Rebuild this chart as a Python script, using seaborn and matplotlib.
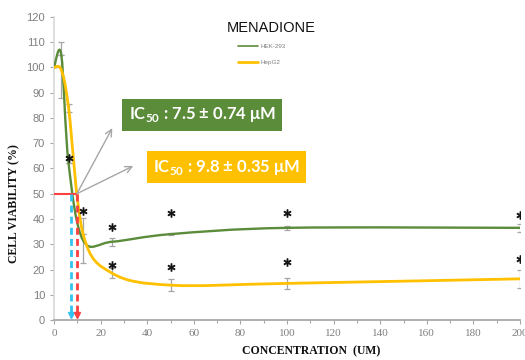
import numpy as np
import pandas as pd
import seaborn as sns
import matplotlib.pyplot as plt
from matplotlib.path import Path
from matplotlib.patches import PathPatch
from matplotlib.lines import Line2D

# Data
conc = [0, 3.125, 6.25, 12.5, 25, 50, 100, 200]
hek_mean = [100, 105, 62, 31.5, 31, 34, 36.5, 36.5]
hek_err = [0, 0, 0, 9, 1.5, 0.5, 0.8, 1.5]
hep_mean = [100, 99, 84, 34, 18.5, 13.8, 14.5, 16.3]
hep_err = [0, 11, 1.5, 0, 2, 2.4, 2.2, 3.5]

# significance stars (conc, height)
star_x = [6.25, 12.5, 25, 50, 100, 200, 25, 50, 100, 200]
star_y = [64, 43, 37, 42.5, 42.5, 41.7, 21.8, 21, 23, 24]

ic50_hek = 7.5
ic50_hep = 9.8

green = '#5B8C3A'
yellow = '#FFC000'

sns.set_theme(style='white')
plt.rcParams['font.family'] = ['Liberation Sans', 'DejaVu Sans']


def smooth_path(x, y):
    # Excel style smoothed line (Catmull-Rom as cubic Bezier)
    n = len(x)
    verts = [(x[0], y[0])]
    codes = [Path.MOVETO]
    for i in range(n - 1):
        xp, yp = (x[i - 1], y[i - 1]) if i > 0 else (x[i], y[i])
        xn, yn = (x[i + 2], y[i + 2]) if i + 2 < n else (x[i + 1], y[i + 1])
        c1 = (x[i] + (x[i + 1] - xp) / 6, y[i] + (y[i + 1] - yp) / 6)
        c2 = (x[i + 1] - (xn - x[i]) / 6, y[i + 1] - (yn - y[i]) / 6)
        verts += [c1, c2, (x[i + 1], y[i + 1])]
        codes += [Path.CURVE4] * 3
    return Path(verts, codes)


fig = plt.figure(figsize=(5.25, 3.6), dpi=100)
ax = fig.add_axes([0.1029, 0.1111, 0.8876, 0.8417])

# error bars
ax.errorbar(conc, hek_mean, yerr=hek_err, fmt='none', ecolor='#A6A6A6',
            elinewidth=0.9, capsize=2.5, capthick=0.9, zorder=2)
ax.errorbar(conc, hep_mean, yerr=hep_err, fmt='none', ecolor='#A6A6A6',
            elinewidth=0.9, capsize=2.5, capthick=0.9, zorder=2)

ax.add_patch(PathPatch(smooth_path(conc, hek_mean), facecolor='none',
                       edgecolor=green, lw=1.7, zorder=3))
ax.add_patch(PathPatch(smooth_path(conc, hep_mean), facecolor='none',
                       edgecolor=yellow, lw=2.0, zorder=3))

# stars
stars = pd.DataFrame({'x': star_x, 'y': star_y})
sns.scatterplot(data=stars, x='x', y='y', marker=r'$\ast$', s=30, color='#111111',
                edgecolor='#111111', linewidth=0.6, ax=ax, zorder=5, legend=False)

# IC50 guide lines
ax.plot([0, ic50_hep], [50, 50], color='#FF4040', lw=1.5, zorder=4)
ax.plot([ic50_hek, ic50_hek], [50, 3], color='#33C3EE', lw=2, ls=(0, (2.5, 1.5)), zorder=4)
ax.plot([ic50_hep, ic50_hep], [50, 3], color='#FF4040', lw=2, ls=(0, (2.5, 1.5)), zorder=4)
ax.plot([ic50_hek], [1.8], marker='v', color='#33C3EE', ms=5, zorder=4)
ax.plot([ic50_hep], [1.8], marker='v', color='#FF4040', ms=5, zorder=4)

# pointer arrows and labels
for tip in [(25, 76), (34, 61)]:
    ax.annotate('', xy=tip, xytext=(ic50_hep, 50),
                arrowprops=dict(arrowstyle='->', color='#A6A6A6', lw=1,
                                shrinkA=0, shrinkB=0), zorder=4)

ax.text(63.5, 81.3, r'IC$_\mathregular{50}$ : 7.5 ± 0.74 μM', color='white',
        fontsize=12, fontweight='bold', family=['Lato', 'DejaVu Sans'],
        ha='center', va='center', zorder=6,
        bbox=dict(boxstyle='square,pad=0.38', fc=green, ec='none'))
ax.text(74, 60.5, r'IC$_\mathregular{50}$ : 9.8 ± 0.35 μM', color='white',
        fontsize=12, fontweight='bold', family=['Lato', 'DejaVu Sans'],
        ha='center', va='center', zorder=6,
        bbox=dict(boxstyle='square,pad=0.38', fc=yellow, ec='none'))

ax.text(0.466, 0.964, 'MENADIONE', transform=ax.transAxes, fontsize=10.5,
        ha='center', va='center', color='#111111')

handles = [Line2D([], [], color=green, lw=1.2), Line2D([], [], color=yellow, lw=2)]
ax.legend(handles, ['HEK-293', 'HepG2'], loc='upper left', bbox_to_anchor=(0.395, 0.912),
          frameon=False, fontsize=4.5, handlelength=3.2, labelspacing=1.7,
          borderpad=0, borderaxespad=0, handletextpad=0.4, labelcolor='#7F7F7F')

ax.set_xlim(0, 200)
ax.set_ylim(0, 120)
ax.set_xticks(np.arange(0, 201, 20))
ax.set_xticks(np.arange(0, 201, 10), minor=True)
ax.set_yticks(np.arange(0, 121, 10))
ax.tick_params(axis='both', which='both', direction='out', color='#A6A6A6',
               labelcolor='#7F7F7F', labelsize=8, bottom=True, left=True)
ax.tick_params(axis='both', which='major', length=3, width=0.8)
ax.tick_params(axis='x', which='minor', length=2.5, width=0.8)
for lab in ax.get_xticklabels():
    lab.set_family('Liberation Serif')

for side in ['top', 'right']:
    ax.spines[side].set_visible(False)
ax.spines['left'].set_color('#D9D9D9')
ax.spines['bottom'].set_color('#A6A6A6')
ax.grid(False)

ax.set_xlabel('CONCENTRATION  (UM)', family='Liberation Serif', fontweight='bold',
              fontsize=8.5, color='#111111')
ax.set_ylabel('CELL VIABILITY (%)', family='Liberation Serif', fontweight='bold',
              fontsize=8.5, color='#111111')
ax.xaxis.set_label_coords(0.551, -0.085)
ax.yaxis.set_label_coords(-0.073, 0.385)

fig.savefig('out.png', dpi=100)
